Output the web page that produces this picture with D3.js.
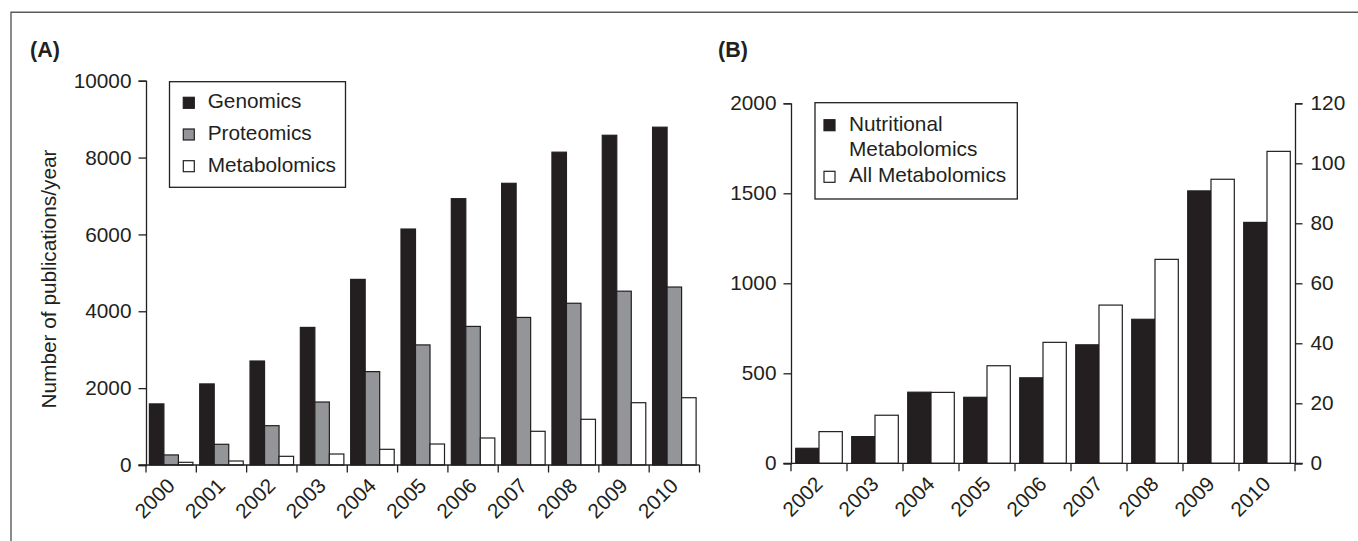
<!DOCTYPE html>
<html>
<head>
<meta charset="utf-8">
<script src="https://cdn.jsdelivr.net/npm/d3@7/dist/d3.min.js"></script>
<style>
  html, body { margin: 0; padding: 0; background: #fff; }
  svg { display: block; }
  text { font-family: "Liberation Sans", Arial, Helvetica, sans-serif; fill: #231f20; }
</style>
</head>
<body>
<svg id="chart" width="1358" height="541"></svg>
<script>
// Panel A: publications per year by field
const yearsA = ["2000","2001","2002","2003","2004","2005","2006","2007","2008","2009","2010"];
const genomics     = [1590, 2110, 2706, 3580, 4830, 6140, 6930, 7330, 8140, 8580, 8790];
const proteomics   = [262, 539, 1023, 1639, 2430, 3125, 3606, 3840, 4209, 4523, 4631];
const metabolomics = [70, 104, 226, 286, 408, 546, 703, 877, 1189, 1621, 1751];
const seriesA = ["Genomics", "Proteomics", "Metabolomics"];
const ticksA = [0, 2000, 4000, 6000, 8000, 10000];

// Panel B: nutritional metabolomics (right axis) vs all metabolomics (left axis)
const yearsB = ["2002","2003","2004","2005","2006","2007","2008","2009","2010"];
const nutritional = [5, 8.9, 23.7, 22, 28.5, 39.5, 48, 90.8, 80.3];
const allMetab    = [176, 267, 394, 542, 672, 879, 1133, 1578, 1733];
const seriesB = ["Nutritional\nMetabolomics", "All Metabolomics"];
const ticksBLeft = [0, 500, 1000, 1500, 2000];
const ticksBRight = [0, 20, 40, 60, 80, 100, 120];

const INK = "#231f20";
const fillA = { Genomics: INK, Proteomics: "#939598", Metabolomics: "#ffffff" };

const svg = d3.select("#chart");
const FS = 20.8;

// outer frame (left and top edges)
svg.append("path")
  .attr("d", "M11,541V12.3H1358")
  .attr("fill", "none").attr("stroke", "#5a5a5a").attr("stroke-width", 1.4);

// ---------- Panel A ----------
{
  const left = 146, right = 699.5, y0 = 465, yTop = 80.7;
  const pad = 0.135;
  const x0 = d3.scaleBand().domain(yearsA).range([left, right]).paddingInner(pad).paddingOuter(pad / 2);
  const x1 = d3.scaleBand().domain(seriesA).range([0, x0.bandwidth()]);
  const y = d3.scaleLinear().domain([0, 10000]).range([y0, yTop]);
  const step = x0.step();

  const rows = yearsA.map((yr, i) => ({ yr, vals: [genomics[i], proteomics[i], metabolomics[i]] }));
  const g = svg.append("g");

  g.selectAll("g.grp").data(rows).join("g")
    .attr("transform", d => `translate(${x0(d.yr)},0)`)
    .selectAll("rect").data(d => seriesA.map((s, k) => ({ s, v: d.vals[k] }))).join("rect")
    .attr("x", d => x1(d.s)).attr("width", x1.bandwidth())
    .attr("y", d => y(d.v)).attr("height", d => y0 - y(d.v))
    .attr("fill", d => fillA[d.s]).attr("stroke", INK).attr("stroke-width", 1.2);

  // y axis
  const ya = g.append("g").attr("transform", `translate(${left},0)`)
    .call(d3.axisLeft(y).tickValues(ticksA).tickSize(7.5).tickPadding(7).tickFormat(d3.format("d")));
  ya.select(".domain").attr("stroke", INK).attr("stroke-width", 1.3);
  ya.selectAll(".tick line").attr("stroke", INK).attr("stroke-width", 1.3);
  ya.selectAll(".tick text").attr("font-size", FS).style("fill", INK);

  // x axis line and boundary ticks
  g.append("line").attr("x1", left - 7.5).attr("x2", right).attr("y1", y0).attr("y2", y0)
    .attr("stroke", INK).attr("stroke-width", 1.3);
  const bounds = yearsA.map(d => x0(d) - step * pad / 2).concat([right]);
  g.selectAll("line.bt").data(bounds).join("line")
    .attr("x1", d => d).attr("x2", d => d).attr("y1", y0).attr("y2", y0 + 7.5)
    .attr("stroke", INK).attr("stroke-width", 1.3);
  g.selectAll("text.xl").data(yearsA).join("text")
    .attr("transform", d => `translate(${x0(d) + x0.bandwidth() / 2 + 5},${y0 + 22}) rotate(-45)`)
    .attr("text-anchor", "end").attr("font-size", FS).text(d => d);

  // axis title
  svg.append("text").attr("transform", `translate(56,279) rotate(-90)`)
    .attr("text-anchor", "middle").attr("font-size", FS).text("Number of publications/year");
  svg.append("text").attr("x", 30).attr("y", 57).attr("font-size", 21.5).attr("font-weight", "bold").text("(A)");

  // legend
  const lg = svg.append("g");
  lg.append("rect").attr("x", 169.5).attr("y", 81.7).attr("width", 176).attr("height", 105.6)
    .attr("fill", "#fff").attr("stroke", INK).attr("stroke-width", 1.3);
  seriesA.forEach((s, k) => {
    const by = 108.3 + k * 31.7;
    lg.append("rect").attr("x", 183.3).attr("y", by - 11).attr("width", 11).attr("height", 11)
      .attr("fill", fillA[s]).attr("stroke", INK).attr("stroke-width", 1.2);
    lg.append("text").attr("x", 207.7).attr("y", by).attr("font-size", FS).text(s);
  });
}

// ---------- Panel B ----------
{
  const left = 791, right = 1295, y0 = 463.3, yTop = 103.3;
  const pad = 0.168;
  const x0 = d3.scaleBand().domain(yearsB).range([left, right]).paddingInner(pad).paddingOuter(pad / 2);
  const x1 = d3.scaleBand().domain(["n", "a"]).range([0, x0.bandwidth()]);
  const yL = d3.scaleLinear().domain([0, 2000]).range([y0, yTop]);
  const yR = d3.scaleLinear().domain([0, 120]).range([y0, yTop]);
  const step = x0.step();
  const g = svg.append("g");

  const rows = yearsB.map((yr, i) => ({ yr, n: nutritional[i], a: allMetab[i] }));
  const grp = g.selectAll("g.grp").data(rows).join("g")
    .attr("transform", d => `translate(${x0(d.yr)},0)`);
  grp.append("rect")
    .attr("x", x1("n")).attr("width", x1.bandwidth())
    .attr("y", d => yR(d.n)).attr("height", d => y0 - yR(d.n))
    .attr("fill", INK).attr("stroke", INK).attr("stroke-width", 1.2);
  grp.append("rect")
    .attr("x", x1("a")).attr("width", x1.bandwidth())
    .attr("y", d => yL(d.a)).attr("height", d => y0 - yL(d.a))
    .attr("fill", "#fff").attr("stroke", INK).attr("stroke-width", 1.2);

  const yl = g.append("g").attr("transform", `translate(${left},0)`)
    .call(d3.axisLeft(yL).tickValues(ticksBLeft).tickSize(7.5).tickPadding(7).tickFormat(d3.format("d")));
  const yr = g.append("g").attr("transform", `translate(${right},0)`)
    .call(d3.axisRight(yR).tickValues(ticksBRight).tickSize(7.5).tickPadding(8).tickFormat(d3.format("d")));
  [yl, yr].forEach(a => {
    a.select(".domain").attr("stroke", INK).attr("stroke-width", 1.3);
    a.selectAll(".tick line").attr("stroke", INK).attr("stroke-width", 1.3);
    a.selectAll(".tick text").attr("font-size", FS).style("fill", INK);
  });

  g.append("line").attr("x1", left - 7.5).attr("x2", right + 7.5).attr("y1", y0).attr("y2", y0)
    .attr("stroke", INK).attr("stroke-width", 1.3);
  const bounds = yearsB.map(d => x0(d) - step * pad / 2).concat([right]);
  g.selectAll("line.bt").data(bounds).join("line")
    .attr("x1", d => d).attr("x2", d => d).attr("y1", y0).attr("y2", y0 + 8)
    .attr("stroke", INK).attr("stroke-width", 1.3);
  g.selectAll("text.xl").data(yearsB).join("text")
    .attr("transform", d => `translate(${x0(d) + x0.bandwidth() / 2 + 5},${y0 + 22}) rotate(-45)`)
    .attr("text-anchor", "end").attr("font-size", FS).text(d => d);

  svg.append("text").attr("x", 718).attr("y", 57).attr("font-size", 21.5).attr("font-weight", "bold").text("(B)");

  // legend
  const lg = svg.append("g");
  lg.append("rect").attr("x", 815).attr("y", 102.7).attr("width", 202.3).attr("height", 96.3)
    .attr("fill", "#fff").attr("stroke", INK).attr("stroke-width", 1.3);
  const base = [130.7, 182.3];
  const fills = [INK, "#fff"];
  seriesB.forEach((s, k) => {
    lg.append("rect").attr("x", 824).attr("y", base[k] - 11).attr("width", 11).attr("height", 11)
      .attr("fill", fills[k]).attr("stroke", INK).attr("stroke-width", 1.2);
    const t = lg.append("text").attr("x", 849).attr("y", base[k]).attr("font-size", FS);
    s.split("\n").forEach((line, j) => {
      t.append("tspan").attr("x", 849).attr("dy", j === 0 ? 0 : 25).text(line);
    });
  });
}
</script>
</body>
</html>
